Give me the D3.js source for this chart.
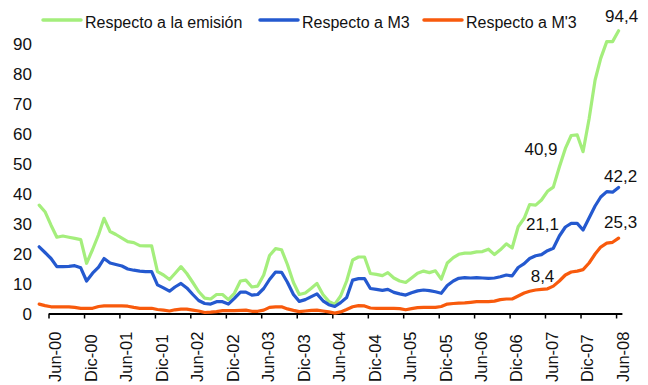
<!DOCTYPE html>
<html><head><meta charset="utf-8">
<script src="https://cdn.jsdelivr.net/npm/d3@7"></script>
<style>
html,body{margin:0;padding:0;background:#fff;}
svg{display:block;font-family:Arial,"Liberation Sans",sans-serif;}
</style></head>
<body><svg id="c" width="648" height="385"></svg>
<script>
// Monthly observations, Apr-00 .. Jun-08
const startYear = 2000, startMonth = 3; // April 2000 (0-based month)
const emision = [36.3,34.1,29.6,25.6,26,25.6,25.2,24.8,16.9,21.5,26.5,31.9,27.5,26.5,25.3,24.1,23.8,22.8,22.7,22.7,
  14.1,13,11.5,13.5,15.8,13.5,10.5,7.5,5.3,5,6.5,6.5,4.8,6.9,11,11.3,9,9.3,13,19.5,
  21.8,21.4,16.5,10.5,6.5,7,8.6,10.2,6.5,4.2,3.3,6,11,18,19,19,13.5,13.2,12.8,13.8,
  12,11,10.5,12,13.6,14.3,13.8,14.4,11.6,17,18.8,19.9,20.3,20.3,20.7,20.8,21.6,19.8,21.4,23.4,
  22,29.1,31.9,36.5,36.3,38,40.9,42.3,49,55.2,59.5,59.7,54.1,65,78,85.2,90.8,90.8,94.4];
const m3 = [22.4,20.5,18.5,15.8,15.8,15.9,16.1,15.4,11,13.6,15.6,18.5,17,16.5,16,15,14.6,14.3,14.1,14.1,
  9.7,8.7,7.6,9,10.2,8.7,6.5,4.5,3.5,3.3,4.1,4.1,3.3,5.2,7.3,7.3,6.3,6.5,8.5,11.5,
  14,13.9,10.6,6.5,4.2,4.8,5.8,6.7,4.4,3.1,2.5,3.8,5.5,11.3,11.8,11.8,8.5,8.2,7.9,8.2,
  7.2,6.7,6.3,7.1,7.7,8,7.8,7.4,6.9,9.5,11,11.9,12.1,12,12.1,12,11.9,12,12.4,13,
  12.7,15.5,16.8,18.5,19.4,19.8,21.1,21.9,26,29,30.2,30.2,28,32,36,39,40.8,40.6,42.2];
const m3p = [3.3,2.8,2.4,2.4,2.4,2.4,2.2,1.9,1.9,1.9,2.5,2.7,2.7,2.7,2.7,2.6,2.2,1.9,1.9,1.9,
  1.5,1.3,1.0,1.4,1.6,1.6,1.3,1.0,0.5,0.6,0.8,1.1,1.1,1.1,1.2,1.3,0.9,0.9,1.3,2.2,
  2.4,2.4,1.7,1.2,0.8,1.0,1.2,1.3,1.0,0.7,0.3,0.7,1.5,2.4,2.8,2.7,2.0,1.9,1.9,1.9,
  1.9,1.8,1.4,1.8,2.1,2.2,2.2,2.2,2.5,3.3,3.5,3.6,3.7,3.9,4.1,4.1,4.1,4.3,4.8,5.0,
  5.0,6.0,7.0,7.6,8.0,8.2,8.4,9.3,11.0,13.0,14.0,14.3,14.8,17.0,20.0,22.3,23.6,23.9,25.3];
const seriesNames = ["Respecto a la emisión","Respecto a M3","Respecto a M'3"];
const seriesColors = ["#a4ee7c","#2459cf","#f85a0c"];
const tickLabels = ["Jun-00","Dic-00","Jun-01","Dic-01","Jun-02","Dic-02","Jun-03","Dic-03","Jun-04",
  "Dic-04","Jun-05","Dic-05","Jun-06","Dic-06","Jun-07","Dic-07","Jun-08"];
const yTicks = [0,10,20,30,40,50,60,70,80,90];
// labelled points: series index, point index, text
const labelSeries = [0,1,2,0,1,2];
const labelIndex = [86,86,86,98,98,98];
const labelText = ["40,9","21,1","8,4","94,4","42,2","25,3"];

const svg = d3.select("#c");
const dateOf = i => new Date(startYear, startMonth + i, 14);
const x = d3.scaleTime().domain([new Date(2000,5,1), new Date(2008,6,1)]).range([48.5, 621.9]);
const y = d3.scaleLinear().domain([0,90]).range([314,44]);

// y axis labels
const yAxis = d3.axisLeft(y).tickValues(yTicks).tickSize(0).tickPadding(3).tickFormat(d3.format("d"));
const yg = svg.append("g").attr("transform","translate(35,0)").call(yAxis);
yg.select(".domain").remove();
yg.selectAll("text").attr("font-size","17px").attr("fill","#111").attr("font-family","Arial,'Liberation Sans',sans-serif");

// x axis
const tickDates = tickLabels.map((_,k)=> new Date(2000, 5 + 6*k, 1));
const xAxis = d3.axisBottom(x).tickValues(tickDates).tickSize(5).tickSizeOuter(0).tickFormat((d,k)=>tickLabels[k]);
const xg = svg.append("g").attr("transform","translate(0,313.5)").call(xAxis);
xg.select(".domain").attr("stroke","#000").attr("stroke-width",2);
xg.selectAll(".tick line").attr("stroke","#000").attr("stroke-width",1.5);
xg.selectAll(".tick text")
  .attr("font-size","16.5px").attr("fill","#111").attr("font-family","Arial,'Liberation Sans',sans-serif")
  .attr("text-anchor","start").attr("dy",null).attr("y",null)
  .attr("transform","translate(12.3,68.5) rotate(-90)");

// lines
const all = [emision, m3, m3p];
const line = d3.line().x((d,i)=>x(dateOf(i))).y(d=>y(d));
all.forEach((s,k)=>{
  svg.append("path").datum(s).attr("d",line).attr("fill","none")
    .attr("stroke",seriesColors[k]).attr("stroke-width",3.2)
    .attr("stroke-linejoin","round").attr("stroke-linecap","round");
});

// data labels
const labelDx = [-6.5,-5,-5,3,2,2];
const labelDy = [-36,-20.5,-7,-9,-5,-10];
labelText.forEach((t,k)=>{
  const s = all[labelSeries[k]], i = labelIndex[k];
  svg.append("text").attr("x", x(dateOf(i)) + labelDx[k]).attr("y", y(s[i]) + labelDy[k])
    .attr("text-anchor","middle").attr("font-size","17px").attr("fill","#111").text(t);
});

// legend
const legX = [43,260,424];
seriesNames.forEach((n,k)=>{
  svg.append("line").attr("x1",legX[k]).attr("x2",legX[k]+38).attr("y1",20).attr("y2",20)
    .attr("stroke",seriesColors[k]).attr("stroke-width",3.5).attr("stroke-linecap","round");
  svg.append("text").attr("x",legX[k]+42).attr("y",27.5).attr("font-size","16px").attr("fill","#111").text(n);
});
</script></body></html>
